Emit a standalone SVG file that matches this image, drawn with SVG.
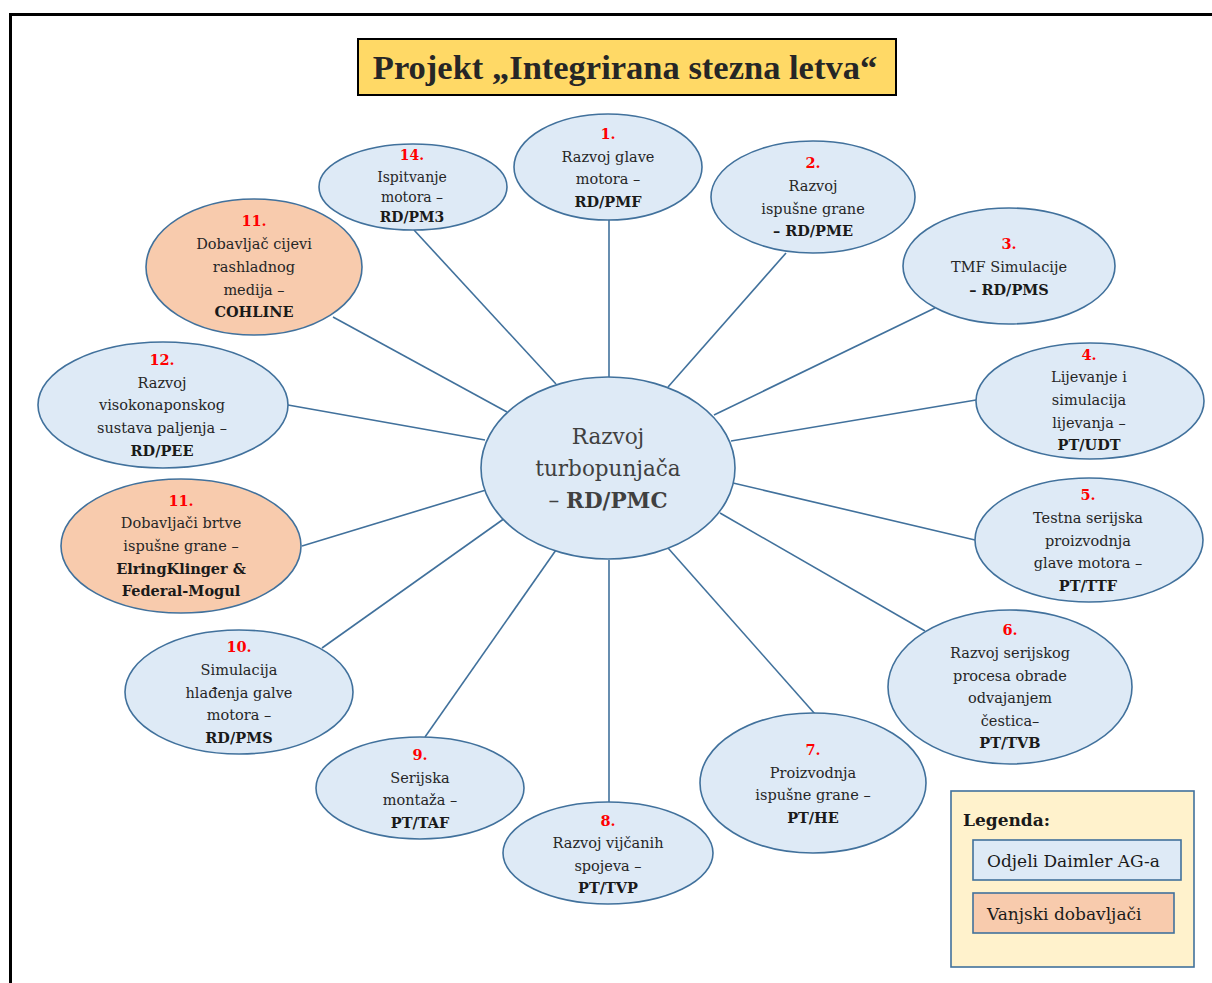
<svg xmlns="http://www.w3.org/2000/svg" width="1212" height="983" viewBox="0 0 1212 983">
<style>
.bg{fill:#ffffff}
.frame{fill:none;stroke:#000;stroke-width:3}
.title-box{fill:#FFD966;stroke:#000;stroke-width:2}
.title{font-family:"Liberation Serif","Times New Roman",serif;font-weight:bold;font-size:34.5px;fill:#262626;text-anchor:middle}
.blue{fill:#DEEAF6;stroke:#41719C;stroke-width:1.6}
.orange{fill:#F8CBAD;stroke:#41719C;stroke-width:1.6}
.conn line{stroke:#41719C;stroke-width:1.6}
.t{font-family:"DejaVu Serif","Liberation Serif",serif;font-size:14.5px;fill:#262626;text-anchor:middle}
.s{font-size:14px}
.b{font-weight:bold;fill:#1a1a1a}
.n{font-weight:bold;fill:#FF0000}
.c{font-family:"DejaVu Serif","Liberation Serif",serif;font-size:21.5px;fill:#404040;text-anchor:middle}
.cb{font-weight:bold}
.legend{fill:#FFF2CC;stroke:#41719C;stroke-width:1.6}
.lg{font-family:"DejaVu Serif","Liberation Serif",serif;font-size:17px;fill:#1a1a1a}
</style>
<rect class="bg" x="0" y="0" width="1212" height="983"/>
<path class="frame" d="M10.5,990 V14.5 H1220"/>
<g id="title">
<rect class="title-box" x="358" y="39" width="538" height="56"/>
<text class="title" x="625" y="79">Projekt „Integrirana stezna letva“</text>
</g>
<g id="connectors" class="conn">
<line x1="609" y1="220" x2="609" y2="378"/>
<line x1="786" y1="253" x2="668" y2="387"/>
<line x1="935" y1="308" x2="714" y2="415"/>
<line x1="976" y1="400" x2="731" y2="441"/>
<line x1="975" y1="540" x2="733" y2="483"/>
<line x1="925" y1="631" x2="720" y2="513"/>
<line x1="815" y1="714" x2="668" y2="548"/>
<line x1="609" y1="802" x2="609" y2="560"/>
<line x1="425" y1="737" x2="556" y2="550"/>
<line x1="322" y1="648" x2="505" y2="518"/>
<line x1="302" y1="546" x2="486" y2="490"/>
<line x1="288" y1="405" x2="485" y2="440"/>
<line x1="333" y1="317" x2="507" y2="412"/>
<line x1="414" y1="230" x2="556" y2="384"/>
</g>
<g id="center">
<ellipse class="blue" cx="608" cy="468" rx="127" ry="91"/>
<text class="c" x="608" y="444">Razvoj</text>
<text class="c" x="608" y="476">turbopunjača</text>
<text class="c" x="608" y="508">– <tspan class="cb">RD/PMC</tspan></text>
</g>
<g id="node1">
<ellipse class="blue" cx="608" cy="167" rx="94" ry="53"/>
<text class="t n" x="608" y="139">1.</text>
<text class="t" x="608" y="162">Razvoj glave</text>
<text class="t" x="608" y="184">motora –</text>
<text class="t b" x="608" y="207">RD/PMF</text>
</g>
<g id="node2">
<ellipse class="blue" cx="813" cy="197" rx="102" ry="56"/>
<text class="t n" x="813" y="168">2.</text>
<text class="t" x="813" y="191">Razvoj</text>
<text class="t" x="813" y="214">ispušne grane</text>
<text class="t b" x="813" y="236">– RD/PME</text>
</g>
<g id="node3">
<ellipse class="blue" cx="1009" cy="266" rx="106" ry="58"/>
<text class="t n" x="1009" y="249">3.</text>
<text class="t" x="1009" y="272">TMF Simulacije</text>
<text class="t b" x="1009" y="295">– RD/PMS</text>
</g>
<g id="node4">
<ellipse class="blue" cx="1090" cy="401" rx="114" ry="58"/>
<text class="t n" x="1089" y="360">4.</text>
<text class="t" x="1089" y="382">Lijevanje i</text>
<text class="t" x="1089" y="405">simulacija</text>
<text class="t" x="1089" y="428">lijevanja –</text>
<text class="t b" x="1089" y="450">PT/UDT</text>
</g>
<g id="node5">
<ellipse class="blue" cx="1089" cy="540" rx="114" ry="62"/>
<text class="t n" x="1088" y="500">5.</text>
<text class="t" x="1088" y="523">Testna serijska</text>
<text class="t" x="1088" y="546">proizvodnja</text>
<text class="t" x="1088" y="568">glave motora –</text>
<text class="t b" x="1088" y="591">PT/TTF</text>
</g>
<g id="node6">
<ellipse class="blue" cx="1010" cy="687" rx="122" ry="77"/>
<text class="t n" x="1010" y="635">6.</text>
<text class="t" x="1010" y="658">Razvoj serijskog</text>
<text class="t" x="1010" y="681">procesa obrade</text>
<text class="t" x="1010" y="703">odvajanjem</text>
<text class="t" x="1010" y="726">čestica–</text>
<text class="t b" x="1010" y="748">PT/TVB</text>
</g>
<g id="node7">
<ellipse class="blue" cx="813" cy="783" rx="113" ry="70"/>
<text class="t n" x="813" y="755">7.</text>
<text class="t" x="813" y="778">Proizvodnja</text>
<text class="t" x="813" y="800">ispušne grane –</text>
<text class="t b" x="813" y="823">PT/HE</text>
</g>
<g id="node8">
<ellipse class="blue" cx="608" cy="853" rx="105" ry="51"/>
<text class="t n" x="608" y="826">8.</text>
<text class="t" x="608" y="848">Razvoj vijčanih</text>
<text class="t" x="608" y="871">spojeva –</text>
<text class="t b" x="608" y="893">PT/TVP</text>
</g>
<g id="node9">
<ellipse class="blue" cx="420" cy="788" rx="104" ry="51"/>
<text class="t n" x="420" y="760">9.</text>
<text class="t" x="420" y="783">Serijska</text>
<text class="t" x="420" y="805">montaža –</text>
<text class="t b" x="420" y="828">PT/TAF</text>
</g>
<g id="node10">
<ellipse class="blue" cx="239" cy="692" rx="114" ry="62"/>
<text class="t n" x="239" y="652">10.</text>
<text class="t" x="239" y="675">Simulacija</text>
<text class="t" x="239" y="698">hlađenja galve</text>
<text class="t" x="239" y="720">motora –</text>
<text class="t b" x="239" y="743">RD/PMS</text>
</g>
<g id="node11b">
<ellipse class="orange" cx="181" cy="546" rx="120" ry="67"/>
<text class="t n" x="181" y="506">11.</text>
<text class="t" x="181" y="528">Dobavljači brtve</text>
<text class="t" x="181" y="551">ispušne grane –</text>
<text class="t b" x="181" y="574">ElringKlinger &amp;</text>
<text class="t b" x="181" y="596">Federal-Mogul</text>
</g>
<g id="node12">
<ellipse class="blue" cx="163" cy="405" rx="125" ry="63"/>
<text class="t n" x="162" y="365">12.</text>
<text class="t" x="162" y="388">Razvoj</text>
<text class="t" x="162" y="410">visokonaponskog</text>
<text class="t" x="162" y="433">sustava paljenja –</text>
<text class="t b" x="162" y="456">RD/PEE</text>
</g>
<g id="node11a">
<ellipse class="orange" cx="254" cy="267" rx="108" ry="68"/>
<text class="t n" x="254" y="226">11.</text>
<text class="t" x="254" y="249">Dobavljač cijevi</text>
<text class="t" x="254" y="272">rashladnog</text>
<text class="t" x="254" y="295">medija –</text>
<text class="t b" x="254" y="317">COHLINE</text>
</g>
<g id="node14">
<ellipse class="blue" cx="413" cy="187" rx="94" ry="43"/>
<text class="t s n" x="412" y="160">14.</text>
<text class="t s" x="412" y="182">Ispitvanje</text>
<text class="t s" x="412" y="202">motora –</text>
<text class="t s b" x="412" y="222">RD/PM3</text>
</g>
<g id="legend">
<rect class="legend" x="951" y="791" width="243" height="176"/>
<text class="lg b" x="963" y="826" font-size="18">Legenda:</text>
<rect class="blue" x="973" y="840" width="208" height="40"/>
<text class="lg" x="987" y="867">Odjeli Daimler AG-a</text>
<rect class="orange" x="973" y="893" width="201" height="40"/>
<text class="lg" x="987" y="920">Vanjski dobavljači</text>
</g>
</svg>
